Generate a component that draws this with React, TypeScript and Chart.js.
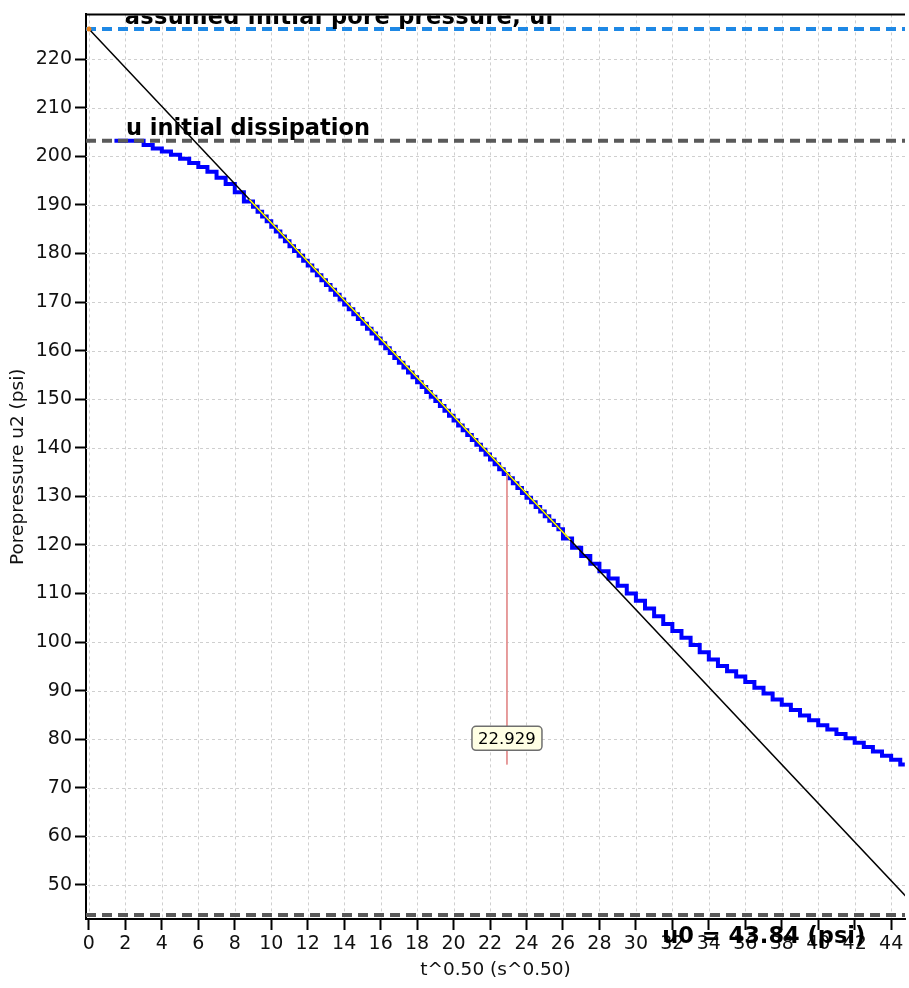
import React, { useEffect, useRef } from 'react';
import { Chart, registerables } from 'chart.js';

Chart.register(...registerables);

// ---- data ----
const timeRoot = [
  1.4, 2, 2.5, 3, 3.5, 4, 4.5, 5, 5.5, 6, 6.5, 7, 7.5, 8, 8.5,
  9, 9.25, 9.5, 9.75, 10, 10.25, 10.5, 10.75, 11, 11.25, 11.5, 11.75, 12, 12.25, 12.5, 12.75,
  13, 13.25, 13.5, 13.75, 14, 14.25, 14.5, 14.75, 15, 15.25, 15.5, 15.75, 16, 16.25, 16.5, 16.75,
  17, 17.25, 17.5, 17.75, 18, 18.25, 18.5, 18.75, 19, 19.25, 19.5, 19.75, 20, 20.25, 20.5, 20.75,
  21, 21.25, 21.5, 21.75, 22, 22.25, 22.5, 22.75, 23, 23.25, 23.5, 23.75, 24, 24.25, 24.5, 24.75,
  25, 25.25, 25.5, 25.75, 26,
  26.5, 27, 27.5, 28, 28.5, 29, 29.5, 30, 30.5, 31, 31.5, 32, 32.5, 33, 33.5, 34, 34.5, 35, 35.5,
  36, 36.5, 37, 37.5, 38, 38.5, 39, 39.5, 40, 40.5, 41, 41.5, 42, 42.5, 43, 43.5, 44, 44.5, 44.75,
];
const porePressure = [
  203.2, 203.2, 203.2, 203.2, 202.3, 201.6, 201.0, 200.3, 199.5, 198.6, 197.8, 196.8, 195.6, 194.3, 192.6,
  190.7, 189.6, 188.6, 187.6, 186.6, 185.5, 184.5, 183.5, 182.5, 181.5, 180.5, 179.5, 178.5, 177.5, 176.5, 175.5,
  174.5, 173.5, 172.5, 171.5, 170.5, 169.5, 168.5, 167.5, 166.5, 165.5, 164.5, 163.5, 162.5, 161.5, 160.5, 159.5,
  158.5, 157.5, 156.5, 155.5, 154.5, 153.5, 152.5, 151.5, 150.5, 149.6, 148.6, 147.6, 146.6, 145.6, 144.6, 143.6,
  142.6, 141.6, 140.6, 139.6, 138.6, 137.6, 136.6, 135.6, 134.6, 133.7, 132.7, 131.7, 130.7, 129.7, 128.8, 127.8,
  126.9, 125.9, 125.0, 124.1, 123.2,
  121.3, 119.4, 117.7, 116.1, 114.6, 113.1, 111.6, 110.0, 108.5, 106.9, 105.3, 103.7, 102.3, 100.9, 99.4, 97.9, 96.4, 95.1, 94.0,
  92.9, 91.8, 90.6, 89.4, 88.2, 87.1, 86.0, 84.9, 83.9, 82.9, 82.0, 81.1, 80.2, 79.3, 78.4, 77.5, 76.6, 75.8, 74.8,
];

const tangentX = [0, 45];
const tangentY = [226.2, 46.9];
const fitX = [8.8, 26.4];
const fitY = [191.1, 121.0];

const uAssumedInitial = 226.2;
const uInitialDissipation = 203.2;
const uZero = 43.84;

const markerX = 22.929;
const markerRange = [134.6, 74.8];
const markerLabelY = 80.2;

const X_MIN = -0.16;
const X_MAX = 44.76;
const Y_MIN = 43.0;
const Y_MAX = 229.2;

const labelAssumed = 'assumed initial pore pressure, ui';
const labelDissipation = 'u initial dissipation';
const labelZero = `u0 = ${uZero.toFixed(2)} (psi)`;
const labelXPos = [1.97, 2.03, 31.45];

const FONT = '"DejaVu Sans", Verdana, sans-serif';

const overlayPlugin = {
  id: 'overlay',
  beforeDatasetsDraw(chart: any) {
    const { ctx, chartArea: a, scales } = chart;
    const x = scales.x;
    const y = scales.y;
    ctx.save();
    ctx.beginPath();
    ctx.rect(a.left, a.top, a.right - a.left, a.bottom - a.top);
    ctx.clip();
    ctx.strokeStyle = '#cfcfcf';
    ctx.lineWidth = 1;
    ctx.setLineDash([3, 3]);
    x.ticks.forEach((t: any) => {
      const px = Math.round(x.getPixelForValue(t.value)) + 0.5;
      ctx.beginPath();
      ctx.moveTo(px, a.top);
      ctx.lineTo(px, a.bottom);
      ctx.stroke();
    });
    y.ticks.forEach((t: any) => {
      const py = Math.round(y.getPixelForValue(t.value)) + 0.5;
      ctx.beginPath();
      ctx.moveTo(a.left, py);
      ctx.lineTo(a.right, py);
      ctx.stroke();
    });
    ctx.restore();
  },
  afterDatasetsDraw(chart: any) {
    const { ctx, chartArea: a, scales } = chart;
    const x = scales.x;
    const y = scales.y;
    ctx.save();
    // top frame line
    ctx.strokeStyle = '#000';
    ctx.lineWidth = 2;
    ctx.setLineDash([]);
    ctx.beginPath();
    ctx.moveTo(a.left, a.top);
    ctx.lineTo(a.right, a.top);
    ctx.stroke();

    ctx.fillStyle = '#000';
    ctx.font = `bold 22.5px ${FONT}`;
    ctx.textAlign = 'left';
    ctx.textBaseline = 'alphabetic';

    ctx.save();
    ctx.beginPath();
    ctx.rect(a.left, a.top + 1, a.right - a.left, a.bottom - a.top);
    ctx.clip();
    (ctx as any).letterSpacing = '0.3px';
    ctx.fillText(labelAssumed, x.getPixelForValue(labelXPos[0]), y.getPixelForValue(uAssumedInitial) - 4.5);
    (ctx as any).letterSpacing = '0px';
    ctx.fillText(labelDissipation, x.getPixelForValue(labelXPos[1]), y.getPixelForValue(uInitialDissipation) - 6);
    ctx.restore();

    ctx.fillText(labelZero, x.getPixelForValue(labelXPos[2]), y.getPixelForValue(uZero) + 28);

    // marker label box
    const cx = x.getPixelForValue(markerX);
    const cy = y.getPixelForValue(markerLabelY);
    const text = markerX.toFixed(3);
    ctx.font = `16.5px ${FONT}`;
    const w = 70;
    const h = 24;
    ctx.beginPath();
    (ctx as any).roundRect(cx - w / 2, cy - h / 2, w, h, 4);
    ctx.fillStyle = '#ffffe4';
    ctx.fill();
    ctx.strokeStyle = '#6e6e6e';
    ctx.lineWidth = 1.5;
    ctx.stroke();
    ctx.fillStyle = '#000';
    ctx.textAlign = 'center';
    ctx.textBaseline = 'middle';
    ctx.fillText(text, cx, cy + 1);
    ctx.restore();
  },
};

export default function App() {
  const ref = useRef<HTMLCanvasElement>(null);

  useEffect(() => {
    document.body.style.margin = '0';
    const canvas = ref.current;
    if (!canvas) return;

    const n = Math.min(timeRoot.length, porePressure.length);
    const curve = timeRoot.slice(0, n).map((t, i) => ({ x: t, y: porePressure[i] }));
    const tangent = tangentX.map((t, i) => ({ x: t, y: tangentY[i] }));
    const fit = fitX.map((t, i) => ({ x: t, y: fitY[i] }));
    const hLine = (v: number) => [{ x: X_MIN, y: v }, { x: X_MAX, y: v }];

    const tickFont = { family: FONT, size: 19 };
    const titleFont = { family: FONT, size: 18.5 };

    const chart = new Chart(canvas, {
      type: 'line',
      data: {
        datasets: [
          {
            label: 'start',
            data: [{ x: tangentX[0], y: tangentY[0] }],
            showLine: false,
            pointRadius: 2.5,
            pointBackgroundColor: '#e8801a',
            pointBorderWidth: 0,
            order: 0,
          },
          {
            label: 'fit',
            data: fit,
            borderColor: '#ffff00',
            borderWidth: 1.5,
            pointRadius: 0,
            order: 1,
          },
          {
            label: 'tangent',
            data: tangent,
            borderColor: '#000000',
            borderWidth: 1.5,
            pointRadius: 0,
            order: 2,
          },
          {
            label: 'marker',
            data: markerRange.map((v) => ({ x: markerX, y: v })),
            borderColor: '#e39090',
            borderWidth: 1,
            pointRadius: 0,
            order: 3,
          },
          {
            label: 'ui',
            data: hLine(uAssumedInitial),
            borderColor: '#1e88e5',
            borderWidth: 4,
            borderDash: [10, 6],
            pointRadius: 0,
            order: 4,
          },
          {
            label: 'u initial dissipation',
            data: hLine(uInitialDissipation),
            borderColor: '#5a5a5a',
            borderWidth: 4,
            borderDash: [10, 6],
            pointRadius: 0,
            order: 4,
          },
          {
            label: 'u0',
            data: hLine(uZero),
            borderColor: '#5a5a5a',
            borderWidth: 4,
            borderDash: [10, 6],
            pointRadius: 0,
            order: 4,
          },
          {
            label: 'Porepressure u2',
            data: curve,
            borderColor: '#0000ff',
            borderWidth: 4,
            pointRadius: 0,
            stepped: 'after',
            order: 5,
          },
        ],
      },
      options: {
        responsive: false,
        animation: false,
        devicePixelRatio: 1,
        layout: { padding: { top: 12, left: 0, right: 0, bottom: 0 } },
        plugins: {
          legend: { display: false },
          tooltip: { enabled: false },
        },
        scales: {
          x: {
            type: 'linear',
            min: X_MIN,
            max: X_MAX,
            afterFit: (s: any) => {
              s.height = 69;
            },
            ticks: {
              stepSize: 2,
              includeBounds: false,
              autoSkip: false,
              maxRotation: 0,
              color: '#111',
              font: tickFont,
              padding: 3,
            },
            grid: {
              drawOnChartArea: false,
              drawTicks: true,
              tickLength: 11,
              tickColor: '#000',
              tickWidth: 2,
            },
            border: { color: '#000', width: 2 },
            title: {
              display: true,
              text: 't^0.50 (s^0.50)',
              color: '#111',
              font: titleFont,
              padding: { top: 0, bottom: 7 },
            },
          },
          y: {
            type: 'linear',
            min: Y_MIN,
            max: Y_MAX,
            afterFit: (s: any) => {
              s.width = 86;
            },
            ticks: {
              stepSize: 10,
              includeBounds: false,
              autoSkip: false,
              color: '#111',
              font: tickFont,
              padding: 3,
            },
            grid: {
              drawOnChartArea: false,
              drawTicks: true,
              tickLength: 11,
              tickColor: '#000',
              tickWidth: 2,
            },
            border: { color: '#000', width: 2 },
            title: {
              display: true,
              text: 'Porepressure u2 (psi)',
              color: '#111',
              font: titleFont,
              padding: { top: 7, bottom: 0 },
            },
          },
        },
      },
      plugins: [overlayPlugin],
    } as any);

    return () => chart.destroy();
  }, []);

  return (
    <div style={{ width: 909, height: 988 }}>
      <canvas ref={ref} width={909} height={988} style={{ display: 'block' }} />
    </div>
  );
}
